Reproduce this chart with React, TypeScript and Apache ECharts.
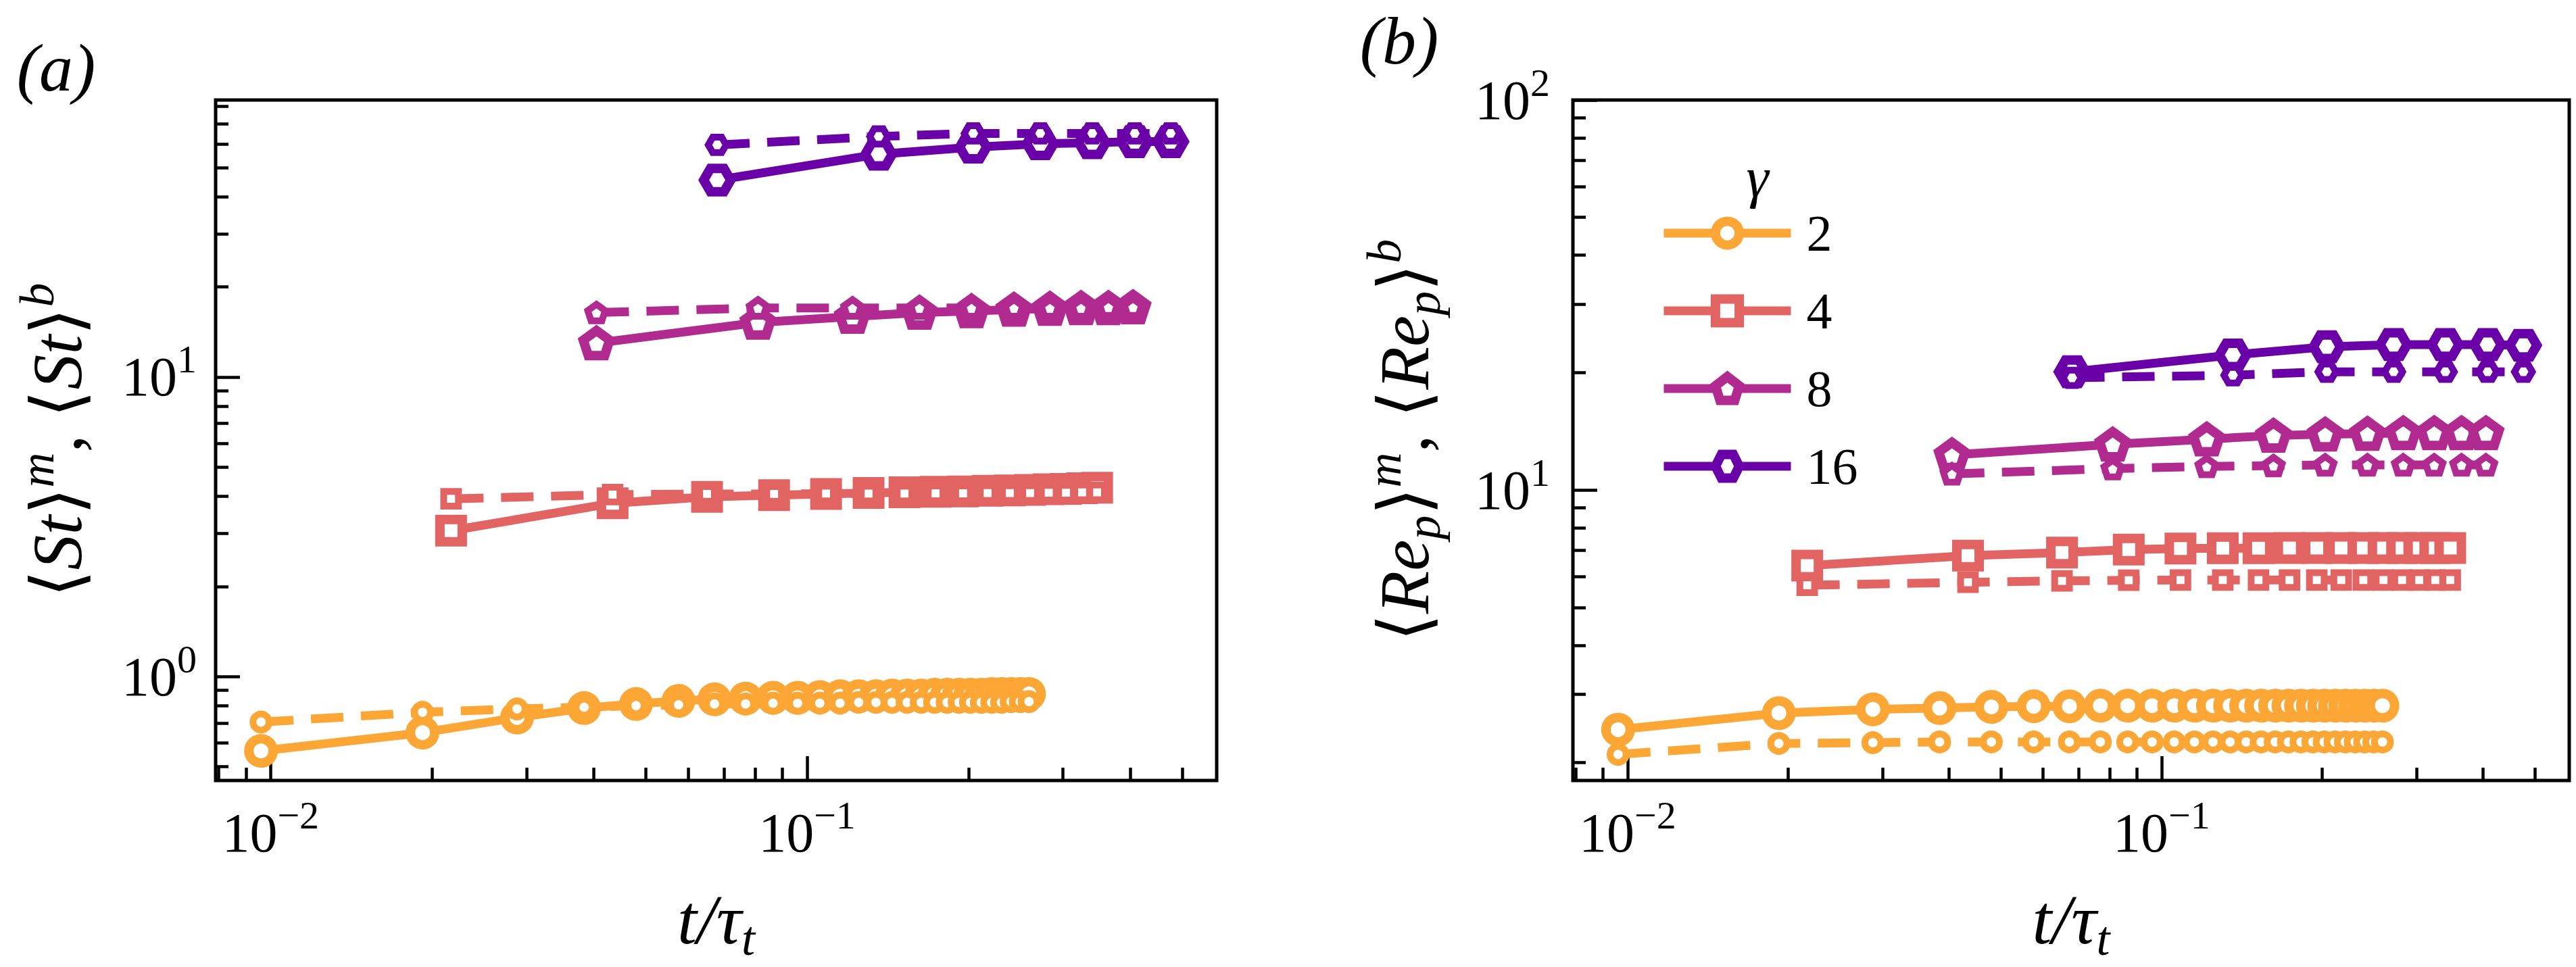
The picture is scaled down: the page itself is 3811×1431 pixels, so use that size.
import { useEffect, useRef } from "react";
import * as echarts from "echarts";

const FONT = "Times New Roman, Liberation Serif, Times, serif";

const COLORS = ["#fca636", "#e16462", "#b12a90", "#6a00a8"];
const GAMMAS = ["2", "4", "8", "16"];

// t / tau_t sampling for each gamma
const X2 = [
  0.0096, 0.0192, 0.0288, 0.0384, 0.048, 0.0576, 0.0672, 0.0768, 0.0864, 0.096, 0.1056, 0.1152, 0.1248, 0.1344,
  0.144, 0.1536, 0.1632, 0.1728, 0.1824, 0.192, 0.2016, 0.2112, 0.2208, 0.2304, 0.24, 0.2496, 0.2592,
];
const X4 = [
  0.0217, 0.0434, 0.0651, 0.0868, 0.1085, 0.1302, 0.1519, 0.1736, 0.1953, 0.217, 0.2387, 0.2604, 0.2821, 0.3038,
  0.3255, 0.3472,
];
const X8 = [0.0405, 0.081, 0.1215, 0.162, 0.2025, 0.243, 0.2835, 0.324, 0.3645, 0.405];
const X16 = [0.068, 0.136, 0.204, 0.272, 0.34, 0.408, 0.476];

// panel (a): <St>^m (solid) and <St>^b (dashed)
const ST_M2 = [
  0.565, 0.65, 0.73, 0.785, 0.81, 0.83, 0.84, 0.845, 0.85, 0.85, 0.855, 0.86, 0.86, 0.86, 0.865, 0.865, 0.865, 0.87,
  0.87, 0.87, 0.87, 0.87, 0.875, 0.875, 0.875, 0.875, 0.875,
];
const ST_B2 = [
  0.705, 0.76, 0.78, 0.79, 0.8, 0.805, 0.81, 0.81, 0.815, 0.815, 0.815, 0.815, 0.82, 0.82, 0.82, 0.82, 0.82, 0.82,
  0.82, 0.82, 0.82, 0.82, 0.82, 0.82, 0.825, 0.825, 0.825,
];
const ST_M4 = [3.07, 3.79, 3.98, 4.03, 4.07, 4.1, 4.12, 4.14, 4.15, 4.17, 4.18, 4.2, 4.22, 4.23, 4.25, 4.27];
const ST_B4 = [3.92, 4.05, 4.07, 4.07, 4.08, 4.08, 4.08, 4.09, 4.09, 4.1, 4.1, 4.1, 4.11, 4.11, 4.12, 4.12];
const ST_M8 = [12.97, 15.2, 15.9, 16.4, 16.6, 16.8, 16.9, 17.0, 17.0, 17.1];
const ST_B8 = [16.4, 17.0, 17.0, 17.0, 17.0, 17.0, 17.0, 17.0, 17.1, 17.1];
const ST_M16 = [45.4, 55.4, 58.5, 60.0, 60.5, 61.0, 61.0];
const ST_B16 = [59.5, 63.5, 65.0, 65.0, 65.0, 65.0, 65.0];

// panel (b): <Re_p>^m (solid) and <Re_p>^b (dashed)
const RE_M2 = [
  2.43, 2.68, 2.74, 2.76, 2.78, 2.79, 2.79, 2.8, 2.8, 2.8, 2.8, 2.8, 2.8, 2.8, 2.8, 2.8, 2.8, 2.8, 2.8, 2.8, 2.8,
  2.8, 2.8, 2.8, 2.8, 2.8, 2.8,
];
const RE_B2 = [
  2.1, 2.24, 2.25, 2.26, 2.26, 2.26, 2.26, 2.26, 2.26, 2.26, 2.26, 2.26, 2.26, 2.26, 2.26, 2.26, 2.26, 2.26, 2.26,
  2.26, 2.26, 2.26, 2.26, 2.26, 2.26, 2.26, 2.26,
];
const RE_M4 = [6.4, 6.79, 6.91, 7.04, 7.08, 7.09, 7.09, 7.1, 7.1, 7.1, 7.1, 7.1, 7.1, 7.1, 7.1, 7.1];
const RE_B4 = [5.7, 5.8, 5.85, 5.87, 5.88, 5.88, 5.88, 5.88, 5.88, 5.88, 5.88, 5.88, 5.88, 5.88, 5.88, 5.88];
const RE_M8 = [12.3, 13.1, 13.5, 13.8, 13.9, 13.95, 14.0, 14.0, 14.0, 14.0];
const RE_B8 = [11.0, 11.35, 11.5, 11.55, 11.6, 11.6, 11.6, 11.6, 11.6, 11.6];
const RE_M16 = [20.1, 22.2, 23.3, 23.6, 23.6, 23.6, 23.5];
const RE_B16 = [19.4, 19.7, 20.1, 20.1, 20.1, 20.1, 20.1];

// axis ranges and ticks
const X_MIN = 0.0079;
const X_MAX = 0.58;
const X_MAJOR = [0.01, 0.1];
const X_MINOR = [0.008, 0.009, 0.02, 0.03, 0.04, 0.05, 0.06, 0.07, 0.08, 0.09, 0.2, 0.3, 0.4, 0.5];
const YA_MIN = 0.45;
const YA_MAX = 84;
const YA_MAJOR = [1, 10];
const YA_MINOR = [0.5, 0.6, 0.7, 0.8, 0.9, 2, 3, 4, 5, 6, 7, 8, 9, 20, 30, 40, 50, 60, 70, 80];
const YB_MIN = 1.8;
const YB_MAX = 100;
const YB_MAJOR = [10, 100];
const YB_MINOR = [2, 3, 4, 5, 6, 7, 8, 9, 20, 30, 40, 50, 60, 70, 80, 90];

const PENTAGON = "path://M0,-1L0.951,-0.309L0.588,0.809L-0.588,0.809L-0.951,-0.309Z";
const HEXAGON = "path://M1,0L0.5,0.866L-0.5,0.866L-1,0L-0.5,-0.866L0.5,-0.866Z";
const SYMBOLS = ["circle", "rect", PENTAGON, HEXAGON];
const SIZES = [36, 33, 39, 40];

const GRID_A = { left: 319, top: 148, width: 1481, height: 1007 };
const GRID_B = { left: 2327, top: 148, width: 1474, height: 1007 };

const tickRich = {
  b: { fontSize: 82, lineHeight: 110, fontFamily: FONT, color: "#000" },
  s: { fontSize: 58, lineHeight: 60, verticalAlign: "top", fontFamily: FONT, color: "#000" },
};

const nameRich = {
  n: { fontSize: 104, lineHeight: 130, fontFamily: FONT, color: "#000" },
  i: { fontSize: 104, lineHeight: 130, fontFamily: FONT, fontStyle: "italic", color: "#000" },
  sup: { fontSize: 72, lineHeight: 70, verticalAlign: "top", fontFamily: FONT, fontStyle: "italic", color: "#000" },
  sub: { fontSize: 72, lineHeight: 70, verticalAlign: "bottom", fontFamily: FONT, fontStyle: "italic", color: "#000" },
};

function powLabel(v: number) {
  const e = Math.round(Math.log10(v));
  return `{b|10}{s|${e < 0 ? "\u2212" + -e : e}}`;
}

function majorAxis(gridIndex: number, min: number, max: number, major: number[], extra: any) {
  return {
    type: "log",
    logBase: 10,
    gridIndex,
    min,
    max,
    axisLine: { show: false },
    splitLine: { show: false },
    axisTick: { show: true, inside: true, length: 36, lineStyle: { color: "#000", width: 4.5 }, customValues: major },
    axisLabel: { show: true, customValues: major, formatter: powLabel, rich: tickRich },
    nameMoveOverlap: false,
    ...extra,
  };
}

function minorAxis(gridIndex: number, min: number, max: number, minor: number[], position: string) {
  return {
    type: "log",
    logBase: 10,
    gridIndex,
    position,
    min,
    max,
    axisLine: { show: false },
    splitLine: { show: false },
    axisLabel: { show: false },
    axisTick: { show: true, inside: true, length: 19, lineStyle: { color: "#000", width: 4.5 }, customValues: minor },
  };
}

function line(name: string, xs: number[], ys: number[], g: number, dashed: boolean, axis: number) {
  const size = dashed ? SIZES[g] * 0.66 : SIZES[g];
  return {
    type: "line",
    name,
    xAxisIndex: axis,
    yAxisIndex: axis,
    data: xs.map((x, i) => [x, ys[i]]),
    symbol: SYMBOLS[g],
    symbolSize: size,
    symbolKeepAspect: true,
    showSymbol: true,
    lineStyle: { color: COLORS[g], width: 13, type: dashed ? [48, 26] : "solid", cap: "butt" },
    itemStyle: { color: "#fff", borderColor: COLORS[g], borderWidth: dashed ? 10 : 14 },
    emphasis: { disabled: true },
    z: dashed ? 3 : 2,
  };
}

export default function App() {
  const chartRef = useRef<HTMLDivElement>(null);

  useEffect(() => {
    if (!chartRef.current) return;
    const chart = echarts.init(chartRef.current, undefined, { renderer: "svg" });

    const xsAll = [X2, X4, X8, X16];
    const stM = [ST_M2, ST_M4, ST_M8, ST_M16];
    const stB = [ST_B2, ST_B4, ST_B8, ST_B16];
    const reM = [RE_M2, RE_M4, RE_M8, RE_M16];
    const reB = [RE_B2, RE_B4, RE_B8, RE_B16];

    const series: any[] = [];
    GAMMAS.forEach((gm, g) => {
      series.push(line(`a ${gm} m`, xsAll[g], stM[g], g, false, 0));
      series.push(line(`a ${gm} b`, xsAll[g], stB[g], g, true, 0));
      series.push(line(gm, xsAll[g], reM[g], g, false, 1));
      series.push(line(`b ${gm} b`, xsAll[g], reB[g], g, true, 1));
    });

    const xName = {
      name: "{i|t/\u03c4}{sub|t}",
      nameLocation: "middle",
      nameGap: 140,
      nameTextStyle: { rich: nameRich },
    };
    const xLabel = { customValues: X_MAJOR, formatter: powLabel, rich: tickRich, margin: 22 };

    chart.setOption({
      animation: false,
      backgroundColor: "#fff",
      grid: [
        { ...GRID_A, show: true, borderColor: "#000", borderWidth: 5, containLabel: false, outerBoundsMode: "none" },
        { ...GRID_B, show: true, borderColor: "#000", borderWidth: 5, containLabel: false, outerBoundsMode: "none" },
      ],
      xAxis: [
        majorAxis(0, X_MIN, X_MAX, X_MAJOR, { position: "bottom", ...xName, axisLabel: xLabel }),
        majorAxis(1, X_MIN, X_MAX, X_MAJOR, { position: "bottom", ...xName, axisLabel: xLabel }),
        minorAxis(0, X_MIN, X_MAX, X_MINOR, "bottom"),
        minorAxis(1, X_MIN, X_MAX, X_MINOR, "bottom"),
      ],
      yAxis: [
        majorAxis(0, YA_MIN, YA_MAX, YA_MAJOR, {
          position: "left",
          name: "{n|\u27e8}{i|St}{n|\u27e9}{sup|m}{n|, \u27e8}{i|St}{n|\u27e9}{sup|b}",
          nameLocation: "middle",
          nameRotate: 90,
          nameGap: 170,
          nameTextStyle: { rich: nameRich },
          axisLabel: { customValues: YA_MAJOR, formatter: powLabel, rich: tickRich, margin: 28 },
        }),
        majorAxis(1, YB_MIN, YB_MAX, YB_MAJOR, {
          position: "left",
          name: "{n|\u27e8}{i|Re}{sub|p}{n|\u27e9}{sup|m}{n|, \u27e8}{i|Re}{sub|p}{n|\u27e9}{sup|b}",
          nameLocation: "middle",
          nameRotate: 90,
          nameGap: 185,
          nameTextStyle: { rich: nameRich },
          axisLabel: { customValues: YB_MAJOR, formatter: powLabel, rich: tickRich, margin: 34 },
        }),
        minorAxis(0, YA_MIN, YA_MAX, YA_MINOR, "left"),
        minorAxis(1, YB_MIN, YB_MAX, YB_MINOR, "left"),
      ],
      legend: {
        data: GAMMAS,
        orient: "vertical",
        left: 2455,
        top: 305,
        padding: 0,
        itemWidth: 188,
        itemHeight: 44,
        itemGap: 35,
        selectedMode: false,
        lineStyle: { width: 13 },
        itemStyle: { borderWidth: 14 },
        textStyle: { fontSize: 76, lineHeight: 80, fontFamily: FONT, color: "#000", padding: [0, 0, 0, 18] },
      },
      graphic: [
        {
          type: "text",
          x: 83,
          y: 100,
          style: { text: "(a)", fontSize: 100, fontFamily: FONT, fontStyle: "italic", fill: "#000", align: "center", verticalAlign: "middle" },
        },
        {
          type: "text",
          x: 2070,
          y: 60,
          style: { text: "(b)", fontSize: 100, fontFamily: FONT, fontStyle: "italic", fill: "#000", align: "center", verticalAlign: "middle" },
        },
        {
          type: "text",
          x: 2600,
          y: 262,
          style: { text: "\u03b3", fontSize: 84, fontFamily: FONT, fontStyle: "italic", fill: "#000", align: "center", verticalAlign: "middle" },
        },
      ],
      series,
    });

    return () => {
      chart.dispose();
    };
  }, []);

  return (
    <div
      ref={chartRef}
      style={{ position: "fixed", left: 0, top: 0, width: 3811, height: 1431, background: "#fff" }}
    />
  );
}
